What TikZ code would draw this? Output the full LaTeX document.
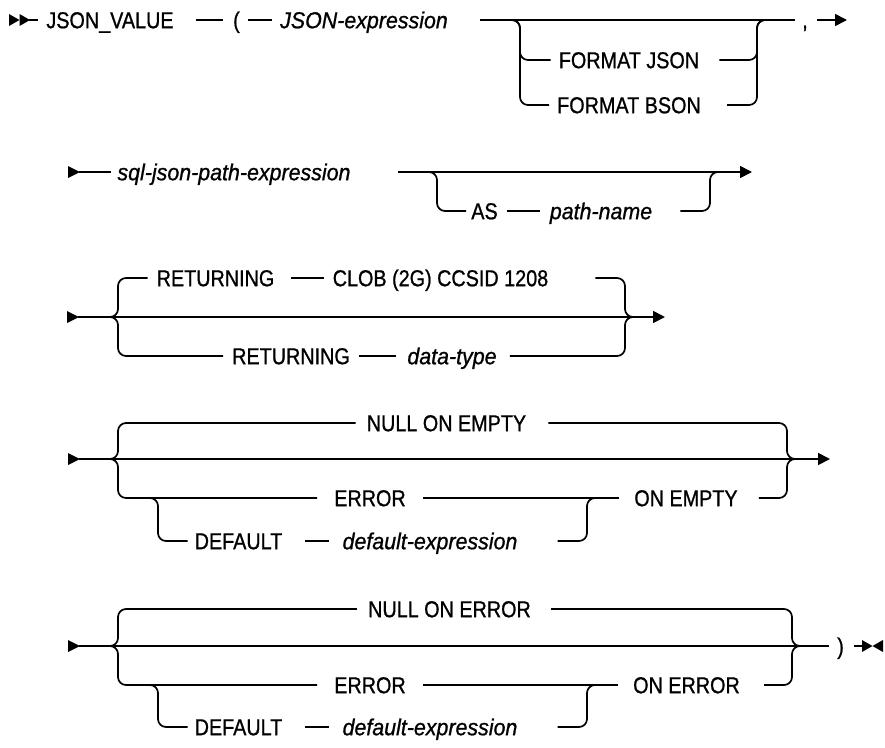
\documentclass[tikz,border=0pt]{standalone}
\usepackage{fontspec}
\setmainfont{Liberation Sans}[FakeStretch=0.86,FakeBold=0.9]
\newfontfamily\varfam{Liberation Sans}[FakeStretch=0.93,FakeBold=0.9]
\usetikzlibrary{arrows.meta}
\begin{document}
\begin{tikzpicture}[x=1pt,y=-1pt,
  ln/.style={line width=1.7pt},
  rc/.style={line width=1.7pt,rounded corners=8pt},
  arr/.style={line width=1.7pt,-{Triangle[length=12pt,width=12pt]}},
  kw/.style={inner sep=0pt,text height=16.4pt,text depth=0pt,font=\fontsize{23}{26}\selectfont},
  var/.style={kw,font=\fontsize{23}{26}\selectfont\varfam\itshape}]
\useasboundingbox (0,0) rectangle (885,747);

% ---------------- Row 1 ----------------
\fill (9,14) -- (19.5,20) -- (9,26) -- cycle;
\fill (19.5,14) -- (30,20) -- (19.5,26) -- cycle;
\draw[ln] (29,20) -- (38,20);
\node[kw] (jv) at (110,20) {JSON\_VALUE};
\node[kw] (lp) at (236.5,20) {(};
\node[var] (je) at (364,20) {JSON-expression};
\node[kw] (fj) at (629,60) {FORMAT JSON};
\node[kw] (fb) at (629,105) {FORMAT BSON};
\node[kw] (cm) at (805,20) {,};
\coordinate (m1s) at (480,20);
\coordinate (m1e) at (795,20);
\coordinate (a1s) at (817,20);
\coordinate (a1e) at (847,20);
\draw[ln] ([xshift=22pt]jv.east) -- ([xshift=-10pt]lp.west);
\draw[ln] ([xshift=8pt]lp.east) -- ([xshift=-8pt]je.west);
\draw[ln] (m1s) -- (m1e);
\draw[rc] (510,20) -| (520,60) -- ([xshift=-8pt]fj.west);
\draw[rc] (510,20) -| (520,105) -- ([xshift=-8pt]fb.west);
\draw[rc] ([xshift=20pt]fj.east) -| (757,20) -- (767,20);
\draw[rc] ([xshift=26pt]fb.east) -| (757,20) -- (767,20);
\draw[arr] (a1s) -- (a1e);

% ---------------- Row 2 ----------------
\fill (68,166) -- (80,172) -- (68,178) -- cycle;
\node[var] (sq) at (234,172) {sql-json-path-expression};
\node[kw] (as) at (484.5,211) {AS};
\node[var] (pn) at (601,211) {path-name};
\coordinate (m2s) at (398,172);
\coordinate (m2e) at (752,172);
\draw[ln] (79,172) -- ([xshift=-6pt]sq.west);
\draw[arr] (m2s) -- (m2e);
\draw[rc] (429,172) -| (437,211) -- ([xshift=-5pt]as.west);
\draw[ln] ([xshift=9pt]as.east) -- ([xshift=-10pt]pn.west);
\draw[rc] ([xshift=28pt]pn.east) -| (710,172) -- (720,172);

% ---------------- Row 3 ----------------
\fill (67,311) -- (79,317) -- (67,323) -- cycle;
\node[kw] (rt) at (215.5,278) {RETURNING};
\node[kw] (cl) at (440.5,278) {CLOB (2G) CCSID 1208};
\node[kw] (rb) at (291,356) {RETURNING};
\node[var] (dt) at (452,356) {data-type};
\coordinate (m3s) at (78,317);
\coordinate (m3e) at (665,317);
\draw[arr] (m3s) -- (m3e);
\draw[rc] (110,317) -| (118,278) -- ([xshift=-9pt]rt.west);
\draw[rc] (110,317) -| (118,356) -- ([xshift=-9pt]rb.west);
\draw[ln] ([xshift=17pt]rt.east) -- ([xshift=-9pt]cl.west);
\draw[rc] ([xshift=47pt]cl.east) -| (625,317) -- (633,317);
\draw[ln] ([xshift=9pt]rb.east) -- ([xshift=-11pt]dt.west);
\draw[rc] ([xshift=13pt]dt.east) -| (625,317) -- (633,317);

% ---------------- Row 4 ----------------
\fill (68,453) -- (80,459) -- (68,465) -- cycle;
\node[kw] (ne) at (446.5,423) {NULL ON EMPTY};
\node[kw] (er4) at (370,498) {ERROR};
\node[kw] (oe) at (686,498) {ON EMPTY};
\node[kw] (df4) at (238.5,541) {DEFAULT};
\node[var] (dx4) at (430,541) {default-expression};
\coordinate (m4s) at (79,459);
\coordinate (m4e) at (830,459);
\draw[arr] (m4s) -- (m4e);
\draw[rc] (110,459) -| (118,423) -- ([xshift=-11pt]ne.west);
\draw[rc] ([xshift=22pt]ne.east) -| (787,459) -- (795,459);
\draw[rc] (110,459) -| (118,498) -- ([xshift=-17pt]er4.west);
\draw[ln] ([xshift=17pt]er4.east) -- ([xshift=-15pt]oe.west);
\draw[rc] ([xshift=21pt]oe.east) -| (787,459) -- (795,459);
\draw[rc] (150,498) -| (158,541) -- ([xshift=-7pt]df4.west);
\draw[ln] ([xshift=23pt]df4.east) -- ([xshift=-13pt]dx4.west);
\draw[rc] ([xshift=40pt]dx4.east) -| (587,498) -- (597,498);

% ---------------- Row 5 ----------------
\fill (68,640) -- (80,646) -- (68,652) -- cycle;
\node[kw] (nr) at (449.5,609) {NULL ON ERROR};
\node[kw] (er5) at (370,685) {ERROR};
\node[kw] (oer) at (686.5,685) {ON ERROR};
\node[kw] (df5) at (238.5,727) {DEFAULT};
\node[var] (dx5) at (430,727) {default-expression};
\node[kw] (rp) at (840.5,646) {)};
\coordinate (m5s) at (79,646);
\draw[ln] (m5s) -- ([xshift=-8pt]rp.west);
\draw[ln] ([xshift=10pt]rp.east) -- (863,646);
\draw[rc] (110,646) -| (118,609) -- ([xshift=-11pt]nr.west);
\draw[rc] ([xshift=20pt]nr.east) -| (792,646) -- (800,646);
\draw[rc] (110,646) -| (118,685) -- ([xshift=-17pt]er5.west);
\draw[ln] ([xshift=17pt]er5.east) -- ([xshift=-15pt]oer.west);
\draw[rc] ([xshift=24pt]oer.east) -| (792,646) -- (800,646);
\draw[rc] (150,685) -| (158,727) -- ([xshift=-7pt]df5.west);
\draw[ln] ([xshift=23pt]df5.east) -- ([xshift=-13pt]dx5.west);
\draw[rc] ([xshift=40pt]dx5.east) -| (587,685) -- (597,685);
\fill (862,640) -- (872.5,646) -- (862,652) -- cycle;
\fill (883,640) -- (872.5,646) -- (883,652) -- cycle;
\end{tikzpicture}
\end{document}
